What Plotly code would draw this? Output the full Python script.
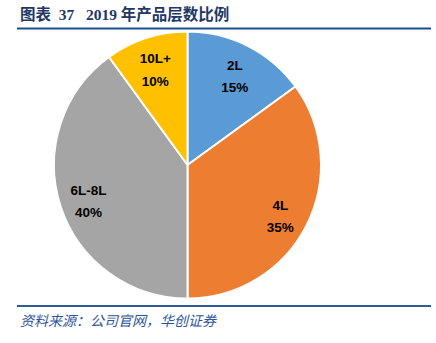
import plotly.graph_objects as go

categories = ["2L", "4L", "6L-8L", "10L+"]
shares = [15, 35, 40, 10]
colors = ["#5B9BD5", "#ED7D31", "#A5A5A5", "#FFC000"]
title_text = "图表\u00a0\u00a037\u00a0\u00a0\u00a02019 年产品层数比例"
source_text = "资料来源：公司官网，华创证券"

W, H = 436, 343
cx, cy, r = 187.5, 165.0, 133.5


def dom(dy=0.0):
    return dict(x=[(cx - r) / W, (cx + r) / W],
                y=[1 - (cy + dy + r) / H, 1 - (cy + dy - r) / H])


common = dict(
    labels=categories,
    values=shares,
    sort=False,
    direction="clockwise",
    rotation=0,
    showlegend=False,
)

# full pie (the wedges)
base = go.Pie(
    **common,
    domain=dom(),
    marker=dict(colors=colors, line=dict(color="white", width=2)),
    textinfo="none",
    hoverinfo="label+percent",
)

# transparent ring layer that only carries the labels, placed further out
labels_layer = go.Pie(
    **common,
    domain=dom(4),
    hole=0.56,
    marker=dict(colors=["rgba(0,0,0,0)"] * len(categories), line=dict(width=0)),
    texttemplate="<span style='font-size:13.5px'><b>%{label}</b></span><br>"
                 "<span style='font-size:13.5px'><b>%{percent:.0%}</b></span>",
    textposition="inside",
    insidetextorientation="horizontal",
    textfont=dict(family="Liberation Sans, Arial, sans-serif", size=17, color="black"),
    hoverinfo="skip",
)

fig = go.Figure([base, labels_layer])

fig.update_layout(
    width=W, height=H,
    margin=dict(l=0, r=0, t=0, b=0),
    paper_bgcolor="white",
    plot_bgcolor="white",
    uniformtext=dict(minsize=13, mode="show"),
    shapes=[
        dict(type="line", xref="paper", yref="paper", x0=17 / W, x1=431 / W,
             y0=1 - 28.5 / H, y1=1 - 28.5 / H, line=dict(color="#1F4E8C", width=2)),
        dict(type="line", xref="paper", yref="paper", x0=17 / W, x1=431 / W,
             y0=1 - 306 / H, y1=1 - 306 / H, line=dict(color="#2F5D9A", width=2)),
    ],
    annotations=[
        dict(text="<b>" + title_text + "</b>", xref="paper", yref="paper",
             x=18 / W, y=1 - 14 / H, xanchor="left", yanchor="middle", showarrow=False,
             font=dict(family="Liberation Serif, Noto Sans CJK SC, serif", size=15.5, color="#1F3864")),
        dict(text="<i>" + source_text + "</i>", xref="paper", yref="paper",
             x=18 / W, y=1 - 320 / H, xanchor="left", yanchor="middle", showarrow=False,
             font=dict(family="Noto Sans CJK SC, sans-serif", size=14, color="#2F5597")),
    ],
)

fig.write_html("out.html")
